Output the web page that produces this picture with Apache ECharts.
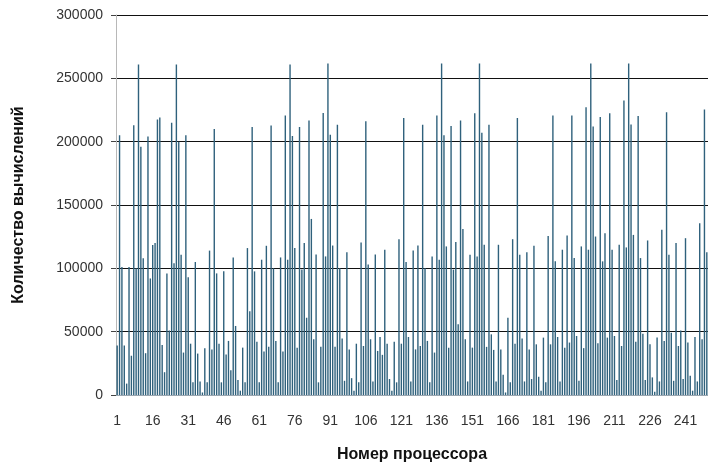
<!DOCTYPE html>
<html>
<head>
<meta charset="utf-8">
<script src="https://cdn.jsdelivr.net/npm/echarts@6/dist/echarts.min.js"></script>
<style>
    html, body { margin: 0; padding: 0; background: #fff; }
    #chart { width: 708px; height: 468px; }
</style>
</head>
<body>
<div id="chart"></div>
<script>
    // количество вычислений на каждом процессоре (1..250)
    const part1 = [39000, 205000, 101000, 39000, 9000, 101000, 31000, 213000, 100000, 261000,
        196000, 108000, 33000, 204000, 92000, 118500, 120000, 217500, 219000, 39500,
        18000, 96000, 51000, 215000, 104000, 261000, 200000, 110700, 33500, 205000,
        93000, 40500, 10000, 105000, 32700, 10700, 2000, 37000, 10000, 114000,
        36000, 210000, 96000, 40500];
    const part2 = [10000, 97600, 32000, 42700, 19600, 108600, 54500, 11800, 3400, 37400,
        10000, 116000, 66200, 211500, 97600, 42000, 10000, 106800, 34300, 117800,
        38000, 212800, 100000, 42700, 10000, 108600, 34300, 220700, 106800, 261000,
        204400, 116000, 37400, 211500, 99000, 120000, 61000, 216700, 139000, 44000,
        111000, 10000, 38000];
    const part3 = [222700, 109400, 261800, 205500, 118000, 38000, 213300, 100000, 44700, 11200,
        112600, 36000, 13300, 3400, 40500, 10000, 120400, 38700, 216200, 103000,
        44000, 10700, 111000, 34800, 45800, 31700, 114700, 40500, 12600, 3400,
        42000, 10000, 123000, 40500, 218600, 105000, 45800, 10700, 114000, 36000,
        118000, 38700, 213300, 100000];
    const part4 = [42700, 10000, 109400, 33500, 220700, 106800, 261800, 205000, 117300, 37400,
        212300, 99000, 120700, 55800, 216700, 131100, 44000, 10700, 110700, 37400,
        222500, 109400, 261800, 207000, 118600, 38000, 213300, 47900, 35600, 10700,
        118600, 36000, 16000, 2000, 61000, 10000, 123000, 40500, 218600, 110700,
        44700, 10700, 112600, 36000];
    const part5 = [12600, 117800, 40000, 14400, 3400, 45300, 10000, 125600, 40000, 220700,
        105500, 45800, 10700, 114700, 37400, 125900, 41400, 220700, 108100, 46600,
        11200, 117300, 37000, 227200, 114700, 261800, 212000, 125100, 40800, 219400,
        105500, 127700, 45300, 222500, 114700, 46600, 11800, 118600, 38700, 232500,
        116500, 261800];
    const part6 = [213600, 126400, 42000, 220200, 108100, 48400, 11800, 122000, 40000, 13900,
        2600, 45300, 10700, 130400, 42700, 223300, 110700, 49200, 11200, 120000,
        38700, 51000, 12600, 123800, 41400, 15200, 3400, 45800, 10700, 135600,
        44000, 225400, 112600];

    const values = [].concat(part1, part2, part3, part4, part5, part6);
    const processors = values.map((v, i) => String(i + 1));
    const yTicks = [0, 50000, 100000, 150000, 200000, 250000, 300000];

    const font = '"Liberation Sans", Arial, sans-serif';
    const myChart = echarts.init(document.getElementById('chart'));

    myChart.setOption({
        animation: false,
        grid: {
            left: 116,
            right: 0,
            top: 15,
            bottom: 70
        },
        xAxis: {
            type: 'category',
            data: processors,
            name: 'Номер процессора',
            nameLocation: 'middle',
            nameGap: 52,
            nameTextStyle: {
                fontFamily: font,
                fontWeight: 'bold',
                fontSize: 16,
                color: '#111'
            },
            axisLine: { lineStyle: { color: '#9aa6b0', width: 1 } },
            axisTick: { show: false },
            axisLabel: {
                interval: 14,
                margin: 19,
                fontFamily: font,
                fontSize: 14,
                color: '#333'
            }
        },
        yAxis: {
            type: 'value',
            min: yTicks[0],
            max: yTicks[yTicks.length - 1],
            interval: 50000,
            name: 'Количество вычислений',
            nameLocation: 'middle',
            nameGap: 89,
            nameTextStyle: {
                fontFamily: font,
                fontWeight: 'bold',
                fontSize: 16,
                color: '#111'
            },
            axisLine: { show: true, lineStyle: { color: '#b8b8b8' } },
            axisTick: { show: true, length: 5, lineStyle: { color: '#444' } },
            axisLabel: {
                margin: 13,
                fontFamily: font,
                fontSize: 14,
                color: '#333',
                formatter: (v) => String(v)
            },
            splitLine: { lineStyle: { color: '#111', width: 1 } }
        },
        series: [{
            type: 'bar',
            data: values,
            barWidth: 1.4,
            itemStyle: { color: '#2f617c' }
        }]
    });
</script>
</body>
</html>
